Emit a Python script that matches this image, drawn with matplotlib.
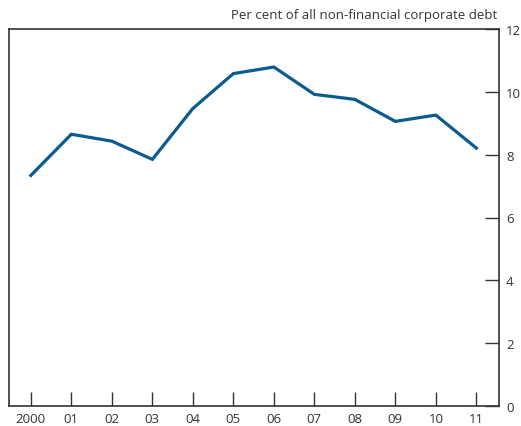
import matplotlib
matplotlib.use("Agg")
import matplotlib.pyplot as plt

years = ["2000", "01", "02", "03", "04", "05", "06", "07", "08", "09", "10", "11"]
values = [7.34, 8.65, 8.43, 7.85, 9.47, 10.58, 10.79, 9.92, 9.76, 9.06, 9.26, 8.21]
yticks = [0, 2, 4, 6, 8, 10, 12]

plt.rcParams['font.family'] = ['Open Sans', 'DejaVu Sans']

fig = plt.figure(figsize=(5.21, 4.27), dpi=100)
ax = fig.add_axes([9/521, 1-407/427, 490/521, 377/427])

x = list(range(len(years)))
ax.plot(x, values, color="#0b5b8f", linewidth=2.3, solid_joinstyle="miter")

ax.set_xlim(-0.54, 11.56)
ax.set_ylim(0, 12)
ax.set_xticks(x)
ax.set_xticklabels(years)
ax.set_yticks(yticks)
ax.set_yticklabels([str(v) for v in yticks])

ax.yaxis.tick_right()
ax.tick_params(axis='y', which='both', left=False, right=True, direction='in',
               length=10, width=1, color='#333333',
               labelsize=9.5, pad=5, labelcolor='#333333')
ax.tick_params(axis='x', direction='in', length=10, width=1, color='#333333',
               labelsize=9.5, pad=4, labelcolor='#333333')
for s in ax.spines.values():
    s.set_color('#333333')
    s.set_linewidth(1.2)

fig.text(497/521, 1-16/427, "Per cent of all non-financial corporate debt",
         ha='right', va='center', fontsize=9.5, color='#333333')

fig.savefig("out.png", dpi=100)
